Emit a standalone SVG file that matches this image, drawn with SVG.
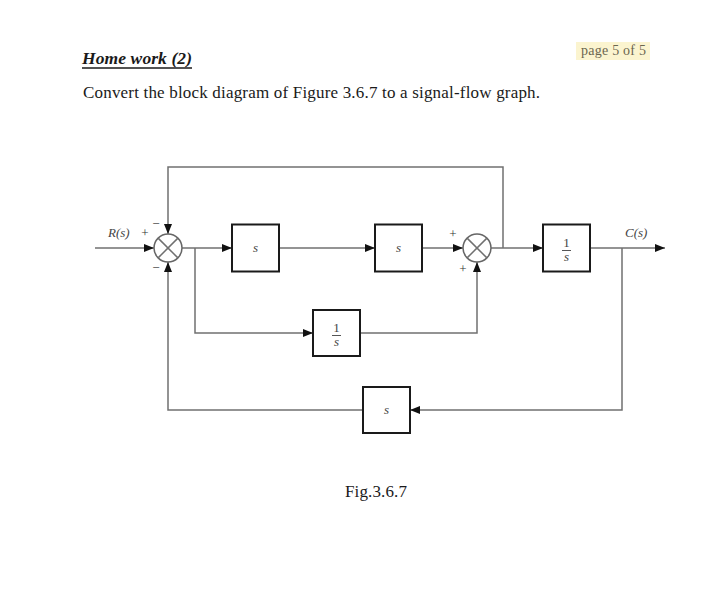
<svg xmlns="http://www.w3.org/2000/svg" width="720" height="611" viewBox="0 0 720 611">
<style>
.t{font-family:"Liberation Serif","Times New Roman",serif;fill:#1a1a1a}
.lbl{font-family:"Liberation Serif","Times New Roman",serif;font-style:italic;fill:#444;font-size:13px}
.num{font-family:"Liberation Serif","Times New Roman",serif;font-style:normal;fill:#444;font-size:13px}
.blk{fill:#fff;stroke:#1a1a1a;stroke-width:2}
.w{fill:none;stroke:#707070;stroke-width:1.5}
.sj{fill:#fff;stroke:#666;stroke-width:1.5}
.sym{font-family:"Liberation Serif","Times New Roman",serif;fill:#333;font-size:13px}
</style>
<defs>
<marker id="ah" viewBox="0 0 10 8" refX="10" refY="4" markerWidth="10" markerHeight="8" markerUnits="userSpaceOnUse" orient="auto">
<path d="M0,0 L10,4 L0,8 Z" fill="#111"/>
</marker>
</defs>
<rect width="720" height="611" fill="#fff"/>
<g id="header">
<text class="t" x="82" y="64" font-size="17.5" font-weight="bold" font-style="italic" textLength="110">Home work (2)</text>
<line x1="82" y1="68" x2="192" y2="68" stroke="#1a1a1a" stroke-width="1.3"/>
<rect x="576" y="42" width="74" height="18" fill="#fbf4cf"/>
<text class="t" x="581" y="55" font-size="14" style="fill:#6b6650" textLength="65">page 5 of 5</text>
<text class="t" x="83" y="98" font-size="17" textLength="457">Convert the block diagram of Figure 3.6.7 to a signal-flow graph.</text>
</g>
<g id="connectors">
<line class="w" x1="95" y1="248" x2="154" y2="248" marker-end="url(#ah)"/>
<line class="w" x1="182" y1="248" x2="232" y2="248" marker-end="url(#ah)"/>
<line class="w" x1="279" y1="248" x2="375" y2="248" marker-end="url(#ah)"/>
<line class="w" x1="422" y1="248" x2="463" y2="248" marker-end="url(#ah)"/>
<line class="w" x1="491" y1="248" x2="543" y2="248" marker-end="url(#ah)"/>
<line class="w" x1="590" y1="248" x2="665" y2="248" marker-end="url(#ah)"/>
<polyline class="w" points="503,248 503,167 168,167 168,234" marker-end="url(#ah)"/>
<polyline class="w" points="195,248 195,333 313,333" marker-end="url(#ah)"/>
<polyline class="w" points="360,333 477,333 477,262" marker-end="url(#ah)"/>
<polyline class="w" points="622,248 622,410 410,410" marker-end="url(#ah)"/>
<polyline class="w" points="363,410 168,410 168,262" marker-end="url(#ah)"/>
</g>
<g id="sum1">
<circle class="sj" cx="168" cy="248" r="14"/>
<line class="w" x1="158.1" y1="238.1" x2="177.9" y2="257.9"/>
<line class="w" x1="177.9" y1="238.1" x2="158.1" y2="257.9"/>
<text class="sym" x="145" y="237" text-anchor="middle">+</text>
<text class="sym" x="156" y="228" text-anchor="middle">−</text>
<text class="sym" x="156" y="272" text-anchor="middle">−</text>
</g>
<g id="sum2">
<circle class="sj" cx="477" cy="248" r="14"/>
<line class="w" x1="467.1" y1="238.1" x2="486.9" y2="257.9"/>
<line class="w" x1="486.9" y1="238.1" x2="467.1" y2="257.9"/>
<text class="sym" x="453" y="238" text-anchor="middle">+</text>
<text class="sym" x="463" y="273" text-anchor="middle">+</text>
</g>
<g id="block1">
<rect class="blk" x="232" y="224.5" width="47" height="47"/>
<text class="lbl" x="255.5" y="252" text-anchor="middle" font-size="14">s</text>
</g>
<g id="block2">
<rect class="blk" x="375" y="224.5" width="47" height="47"/>
<text class="lbl" x="398.5" y="252" text-anchor="middle">s</text>
</g>
<g id="block3">
<rect class="blk" x="543" y="224.5" width="47" height="47"/>
<text class="num" x="566.5" y="247" text-anchor="middle">1</text>
<line x1="562" y1="250.5" x2="571" y2="250.5" stroke="#555" stroke-width="1"/>
<text class="lbl" x="566.5" y="261" text-anchor="middle">s</text>
</g>
<g id="block4">
<rect class="blk" x="313" y="310" width="47" height="46"/>
<text class="num" x="336.5" y="332" text-anchor="middle">1</text>
<line x1="332" y1="335.5" x2="341" y2="335.5" stroke="#555" stroke-width="1"/>
<text class="lbl" x="336.5" y="346" text-anchor="middle">s</text>
</g>
<g id="block5">
<rect class="blk" x="363" y="387" width="47" height="46"/>
<text class="lbl" x="386.5" y="414" text-anchor="middle">s</text>
</g>
<g id="labels">
<text class="lbl" x="108" y="237">R(s)</text>
<text class="lbl" x="625" y="237">C(s)</text>
<text class="t" x="345" y="497" font-size="17" textLength="62">Fig.3.6.7</text>
</g>
</svg>
